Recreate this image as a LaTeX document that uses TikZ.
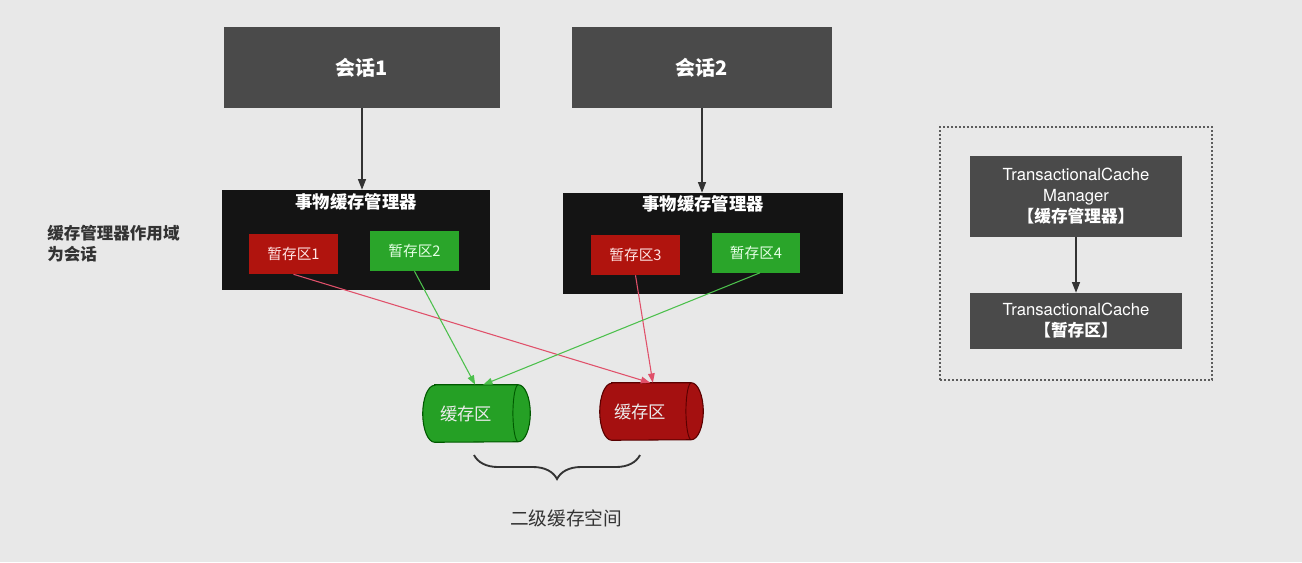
\documentclass[tikz,border=0pt]{standalone}
\usepackage{fontspec}
\setmainfont{Noto Sans CJK SC}
\newfontfamily\heros{TeX Gyre Heros}
\usetikzlibrary{arrows.meta,decorations.pathreplacing}
\definecolor{bg}{HTML}{E8E8E8}
\definecolor{grayb}{HTML}{4A4A4A}
\definecolor{blackb}{HTML}{141414}
\definecolor{redb}{HTML}{B0140E}
\definecolor{greenb}{HTML}{2AA52A}
\definecolor{redc}{HTML}{A51010}
\definecolor{greenc}{HTML}{25A025}
\definecolor{redl}{HTML}{E0506A}
\definecolor{greenl}{HTML}{4CC04C}
\definecolor{txt}{HTML}{333333}
\newcommand\cylpath[3]{%
  \path[fill=#2,draw=#3,line width=0.8pt]
    ([xshift=9pt]#1.north west) -- ([xshift=-9pt]#1.north east)
    arc[start angle=90,end angle=-90,x radius=9pt,y radius=21.375pt]
    -- ([xshift=9pt]#1.south west)
    arc[start angle=270,end angle=90,x radius=9pt,y radius=21.375pt] -- cycle;
  \draw[#3,line width=0.7pt] ([xshift=-9pt]#1.north east)
    arc[start angle=90,end angle=270,x radius=4pt,y radius=21.375pt];
}
\begin{document}
\begin{tikzpicture}[x=0.75pt,y=-0.75pt,
  session/.style={fill=grayb,text=white,font=\bfseries\fontsize{15}{18}\selectfont,minimum height=60.75pt,inner sep=0pt},
  mgrbox/.style={fill=blackb,minimum height=75pt,inner sep=0pt},
  mgrtitle/.style={text=white,font=\bfseries\fontsize{13}{16}\selectfont,inner sep=0pt},
  redbox/.style={fill=redb,text=white!90!red,font=\fontsize{11}{13}\selectfont,minimum width=66.75pt,minimum height=30pt,inner sep=0pt},
  greenbox/.style={fill=greenb,text=white!90!green,font=\fontsize{11}{13}\selectfont,minimum width=66.75pt,minimum height=30pt,inner sep=0pt},
  cylbox/.style={minimum height=42.75pt,inner sep=0pt},
  cyltext/.style={text=white!92!black,font=\fontsize{13}{16}\selectfont,inner sep=0pt},
  darrow/.style={draw=txt,line width=1pt,-{Triangle[length=8pt,width=6pt]}},
  rarrow/.style={draw=redl,line width=0.8pt,-{Triangle[length=7pt,width=5pt]}},
  garrow/.style={draw=greenl,line width=0.8pt,-{Triangle[length=7pt,width=5pt]}},
  tcbox/.style={fill=grayb,text=white,font=\heros\fontsize{12.5}{15.75}\selectfont,align=center,minimum width=159pt,inner sep=0pt}
]
\useasboundingbox (0,0) rectangle (1302,562);
\fill[bg] (0,0) rectangle (1302,562);

% sessions
\node[session,minimum width=207pt] (h1) at (362,67.5) {会话1};
\node[session,minimum width=195pt] (h2) at (702,67.5) {会话2};

% managers
\node[mgrbox,minimum width=201pt] (m1) at (356,240) {};
\node[mgrbox,minimum width=210pt,minimum height=75.75pt] (m2) at (703,243.5) {};
\node[mgrtitle] (t1) at (356,202) {事物缓存管理器};
\node[mgrtitle] (t2) at (703,204) {事物缓存管理器};

\node[redbox] (s1) at (293.5,254) {暂存区1};
\node[greenbox] (s2) at (414.5,251) {暂存区2};
\node[redbox] (s3) at (635.5,255) {暂存区3};
\node[greenbox,minimum width=66pt] (s4) at (756,252.5) {暂存区4};

\draw[darrow] (h1.south) -- (h1.south |- m1.north);
\draw[darrow] (h2.south) -- (h2.south |- m2.north);

% left note
\node[text=txt,font=\bfseries\fontsize{12.4}{15.75}\selectfont,align=left,anchor=west,inner sep=0pt] (note) at (47,243.5) {缓存管理器作用域\\为会话};

% cylinders
\node[cylbox,minimum width=80.25pt] (c1) at (476.5,413.5) {};
\cylpath{c1}{greenc}{green!35!black}
\node[cyltext] (c1t) at (466,413.5) {缓存区};
\node[cylbox,minimum width=77.25pt] (c2) at (651.5,411.5) {};
\cylpath{c2}{redc}{red!35!black}
\node[cyltext] (c2t) at (640,411.5) {缓存区};

% connectors
\draw[rarrow] (s1.south) -- ([xshift=-1pt]c2.north);
\draw[garrow] (s2.south) -- ([xshift=-1pt]c1.north);
\draw[rarrow] (s3.south) -- ([xshift=1pt]c2.north);
\draw[garrow] ([xshift=3pt]s4.south) -- ([xshift=5pt]c1.north);

% brace
\coordinate (br) at (640,455);
\coordinate (bl) at (474,455);
\draw[txt,line width=1.4pt,decorate,decoration={brace,amplitude=18pt}] (br) -- (bl);
\node[text=txt,font=\fontsize{14}{17}\selectfont,inner sep=0pt] (l2) at (566,518) {二级缓存空间};

% legend
\node[draw=txt!80,line width=1.2pt,dash pattern=on 1.2pt off 1.8pt,minimum width=204pt,minimum height=189.75pt,inner sep=0pt] (leg) at (1076,253.5) {};
\node[tcbox,minimum height=60.75pt] (tcm) at (1076,196.5) {TransactionalCache\\Manager\\{\rmfamily\bfseries 【缓存管理器】}};
\node[tcbox,minimum height=42pt] (tc) at (1076,321) {TransactionalCache\\{\rmfamily\bfseries 【暂存区】}};
\draw[darrow] (tcm.south) -- (tc.north);
\end{tikzpicture}
\end{document}
